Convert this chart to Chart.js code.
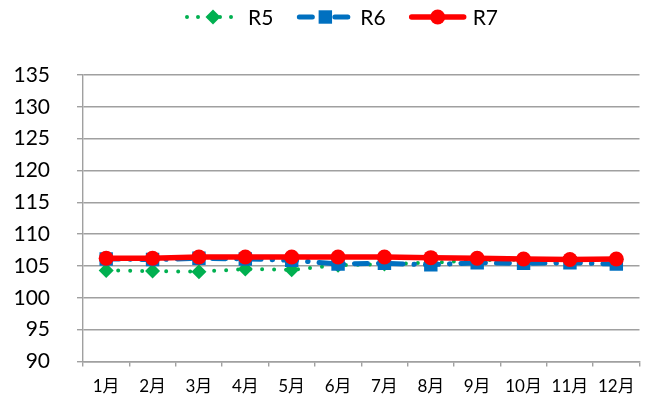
<!DOCTYPE html>
<html>
<head>
<meta charset="utf-8">
<script src="https://cdn.jsdelivr.net/npm/chart.js@4"></script>
<style>
  html, body { margin: 0; padding: 0; background: #ffffff; }
  #wrap { width: 649px; height: 401px; }
</style>
</head>
<body>
<div id="wrap"><canvas id="c" width="649" height="401"></canvas></div>
<script>
// Monthly index values for three fiscal years
const months = ['1月', '2月', '3月', '4月', '5月', '6月', '7月', '8月', '9月', '10月', '11月', '12月'];
const seriesNames = ['R5', 'R6', 'R7'];
const r5 = [104.3, 104.2, 104.1, 104.5, 104.4, 105.1, 105.3, 105.5, 105.9, 106.0, 106.0, 106.0];
const r6 = [106.1, 106.0, 106.2, 106.1, 105.9, 105.3, 105.4, 105.2, 105.5, 105.4, 105.5, 105.3];
const r7 = [106.2, 106.2, 106.4, 106.4, 106.4, 106.4, 106.4, 106.3, 106.2, 106.1, 106.0, 106.1];
const yTicks = [90, 95, 100, 105, 110, 115, 120, 125, 130, 135];

const FONT = 'Lato, "Noto Sans CJK JP", sans-serif';
const GRID = '#a0a0a0';

// Legend drawn as line sample + marker + label, in dataset order
const lineLegend = {
  id: 'lineLegend',
  afterDraw(chart) {
    const ctx = chart.ctx;
    const y = 17;
    const sampleW = 56;
    const gapText = 7;
    const gapItem = 24;
    ctx.save();
    ctx.font = '21px ' + FONT;
    let x = 185;
    chart.data.datasets.forEach((ds) => {
      ctx.save();
      ctx.strokeStyle = ds.borderColor;
      ctx.lineWidth = ds.borderWidth;
      ctx.lineCap = ds.borderCapStyle || 'butt';
      ctx.setLineDash(ds.legendDash || ds.borderDash || []);
      ctx.beginPath();
      ctx.moveTo(x + 2, y);
      ctx.lineTo(x + sampleW - 2, y);
      ctx.stroke();
      ctx.restore();
      ctx.save();
      ctx.fillStyle = ds.backgroundColor;
      ctx.strokeStyle = ds.backgroundColor;
      Chart.helpers.drawPoint(ctx, {
        pointStyle: ds.pointStyle,
        radius: ds.pointRadius,
        borderWidth: 0,
        rotation: 0
      }, x + sampleW / 2, y);
      ctx.restore();
      ctx.fillStyle = '#000000';
      ctx.textBaseline = 'middle';
      ctx.textAlign = 'left';
      ctx.fillText(ds.label, x + sampleW + gapText, y + 1);
      x += sampleW + gapText + ctx.measureText(ds.label).width + gapItem;
    });
    ctx.restore();
  }
};

new Chart(document.getElementById('c'), {
  type: 'line',
  data: {
    labels: months,
    datasets: [
      {
        label: seriesNames[0],
        data: r5,
        order: 3,
        borderColor: '#00b050',
        backgroundColor: '#00b050',
        borderWidth: 4,
        borderDash: [0, 12],
        legendDash: [0, 11],
        borderCapStyle: 'round',
        pointStyle: 'rectRot',
        pointRadius: 7.5,
        pointBorderWidth: 0,
        pointHoverRadius: 7.5,
        tension: 0
      },
      {
        label: seriesNames[1],
        data: r6,
        order: 2,
        borderColor: '#0070c0',
        backgroundColor: '#0070c0',
        borderWidth: 5,
        borderDash: [13, 11, 0.5, 11],
        legendDash: [13, 11, 0.5, 11],
        borderCapStyle: 'round',
        pointStyle: 'rect',
        pointRadius: 9.5,
        pointBorderWidth: 0,
        pointHoverRadius: 9.5,
        tension: 0
      },
      {
        label: seriesNames[2],
        data: r7,
        order: 1,
        borderColor: '#ff0000',
        backgroundColor: '#ff0000',
        borderWidth: 5.5,
        borderCapStyle: 'round',
        pointStyle: 'circle',
        pointRadius: 7.5,
        pointBorderWidth: 0,
        pointHoverRadius: 7.5,
        tension: 0
      }
    ]
  },
  options: {
    responsive: false,
    animation: false,
    devicePixelRatio: 1,
    layout: { padding: { left: 5, right: 1, top: 75, bottom: 0 } },
    plugins: {
      legend: { display: false },
      tooltip: { enabled: false }
    },
    scales: {
      x: {
        type: 'category',
        offset: true,
        grid: {
          offset: true,
          drawOnChartArea: false,
          drawTicks: true,
          tickLength: 5,
          color: GRID,
          lineWidth: 1.4
        },
        border: { display: true, color: GRID, width: 1.4 },
        ticks: {
          color: '#000000',
          font: { family: FONT, size: 17 },
          padding: 10,
          maxRotation: 0,
          autoSkip: false
        },
        afterFit(scale) { scale.height = 37; }
      },
      y: {
        min: yTicks[0],
        max: yTicks[yTicks.length - 1],
        afterBuildTicks(scale) {
          scale.ticks = yTicks.map(v => ({ value: v }));
        },
        grid: {
          drawTicks: true,
          tickLength: 6,
          color: GRID,
          lineWidth: 1.4
        },
        border: { display: true, color: GRID, width: 1.4 },
        ticks: {
          color: '#000000',
          font: { family: FONT, size: 21 },
          padding: 27
        },
        afterFit(scale) { scale.width = 78; }
      }
    }
  },
  plugins: [lineLegend]
});
</script>
</body>
</html>
